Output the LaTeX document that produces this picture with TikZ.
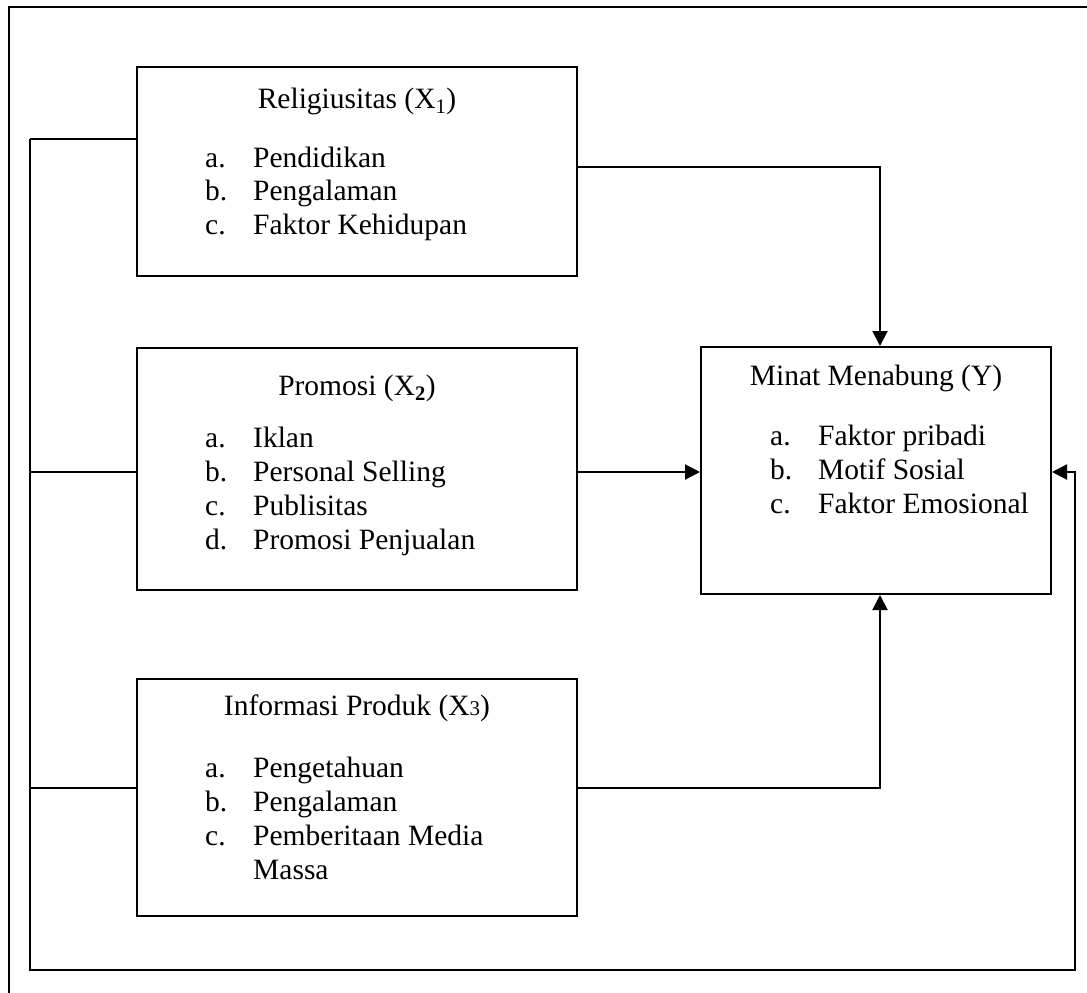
\documentclass[tikz,border=0pt]{standalone}
\usepackage{fontspec}
\setmainfont{Liberation Serif}
\usetikzlibrary{arrows.meta}
\begin{document}
\begin{tikzpicture}[x=1pt,y=-1pt,
  box/.style={draw,line width=2pt,inner sep=0pt},
  txt/.style={inner sep=0pt,font=\fontsize{29.5}{34}\selectfont},
  ln/.style={line width=2pt},
  arr/.style={line width=2pt,-{Triangle[length=15pt,width=15pt]}}]
\useasboundingbox (0,0) rectangle (1087,993);
% outer frame (partly outside the page)
\draw[ln] (9,993) -- (9,7) -- (1087,7);
% boxes
\node[box,minimum width=440pt,minimum height=209pt] (X1) at (357,171.5) {};
\node[box,minimum width=440pt,minimum height=242pt] (X2) at (357,469) {};
\node[box,minimum width=440pt,minimum height=237pt] (X3) at (357,797.5) {};
\node[box,minimum width=350pt,minimum height=247pt] (Y) at (876,470.5) {};
% X1 text
\node[txt,anchor=base] (t1) at (357,108) {Religiusitas (X\textsubscript{1})};
\node[txt,anchor=base west] (l1a) at (205,167) {a.};
\node[txt,anchor=base west] (i1a) at (253,167) {Pendidikan};
\node[txt,anchor=base west] (l1b) at (205,200.5) {b.};
\node[txt,anchor=base west] (i1b) at (253,200.5) {Pengalaman};
\node[txt,anchor=base west] (l1c) at (205,234) {c.};
\node[txt,anchor=base west] (i1c) at (253,234) {Faktor Kehidupan};
% X2 text
\node[txt,anchor=base] (t2) at (357,395) {Promosi (X\textsubscript{\textbf{2}})};
\node[txt,anchor=base west] (l2a) at (205,447) {a.};
\node[txt,anchor=base west] (i2a) at (253,447) {Iklan};
\node[txt,anchor=base west] (l2b) at (205,481) {b.};
\node[txt,anchor=base west] (i2b) at (253,481) {Personal Selling};
\node[txt,anchor=base west] (l2c) at (205,515) {c.};
\node[txt,anchor=base west] (i2c) at (253,515) {Publisitas};
\node[txt,anchor=base west] (l2d) at (205,549) {d.};
\node[txt,anchor=base west] (i2d) at (253,549) {Promosi Penjualan};
% X3 text
\node[txt,anchor=base] (t3) at (357,715) {Informasi Produk (X{\fontsize{21}{21}\selectfont 3})};
\node[txt,anchor=base west] (l3a) at (205,777) {a.};
\node[txt,anchor=base west] (i3a) at (253,777) {Pengetahuan};
\node[txt,anchor=base west] (l3b) at (205,811) {b.};
\node[txt,anchor=base west] (i3b) at (253,811) {Pengalaman};
\node[txt,anchor=base west] (l3c) at (205,845) {c.};
\node[txt,anchor=base west] (i3c) at (253,845) {Pemberitaan Media};
\node[txt,anchor=base west] (i3d) at (253,879) {Massa};
% Y text
\node[txt,anchor=base] (ty) at (876,385) {Minat Menabung (Y)};
\node[txt,anchor=base west] (lya) at (770,445) {a.};
\node[txt,anchor=base west] (iya) at (818,445) {Faktor pribadi};
\node[txt,anchor=base west] (lyb) at (770,479) {b.};
\node[txt,anchor=base west] (iyb) at (818,479) {Motif Sosial};
\node[txt,anchor=base west] (lyc) at (770,513) {c.};
\node[txt,anchor=base west] (iyc) at (818,513) {Faktor Emosional};
% coordinates
\coordinate (ytop) at ([xshift=4pt]Y.north);
\coordinate (ybot) at ([xshift=4pt]Y.south);
\coordinate (fbL) at (30,139);
\coordinate (fbBL) at (30,970);
\coordinate (fbBR) at (1075,970);
\coordinate (fbR) at (1075,472);
% connectors
\draw[arr] (X1.east |- 0,167) -| (ytop);
\draw[arr] (X2.east |- 0,472) -- (Y.west |- 0,472);
\draw[arr] (X3.east |- 0,788) -| (ybot);
% feedback loop
\draw[ln] (X1.west |- fbL) -- (fbL);
\draw[ln] (X2.west |- 0,472) -- (30,472);
\draw[ln] (X3.west |- 0,788) -- (30,788);
\draw[arr] (fbL) -- (fbBL) -- (fbBR) -- (fbR) -- (Y.east |- fbR);
\end{tikzpicture}
\end{document}
